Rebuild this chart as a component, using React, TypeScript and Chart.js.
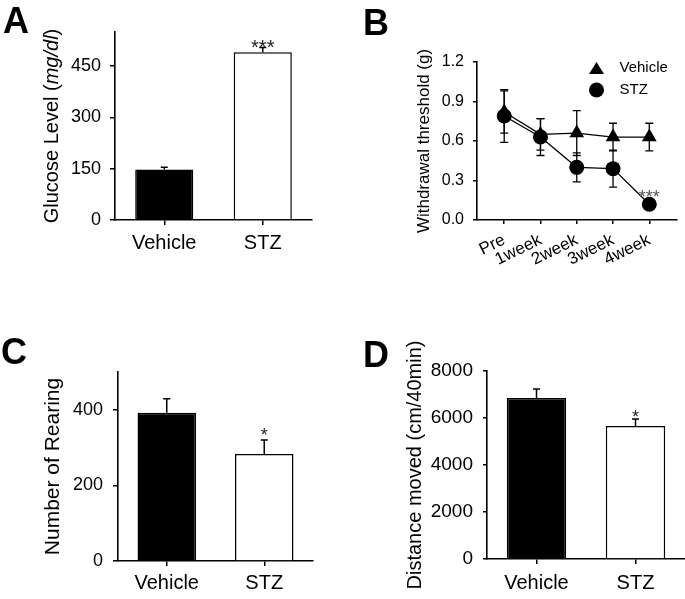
import React, { useEffect, useRef } from "react";
import { Chart, registerables } from "chart.js";

Chart.register(...registerables);

const FONT = "'Liberation Sans', Arial, Helvetica, sans-serif";
Chart.defaults.font.family = FONT;
Chart.defaults.color = "#000";

// ---------------- data ----------------
const groups = ["Vehicle", "STZ"];

const glucoseMean = [148, 491];
const glucoseSem = [6, 14];
const glucoseSig = ["", "***"];
const glucoseTicks = [0, 150, 300, 450];
const glucoseMax = 550;

const timepoints = ["Pre", "1week", "2week", "3week", "4week"];
const vehicleThreshold = [0.82, 0.65, 0.66, 0.63, 0.63];
const vehicleThresholdSem = [0.16, 0.12, 0.17, 0.105, 0.105];
const stzThreshold = [0.79, 0.63, 0.4, 0.39, 0.12];
const stzThresholdSem = [0.2, 0.14, 0.11, 0.14, 0];
const stzThresholdSig = ["", "", "", "", "***"];
const thresholdTicks = [0, 0.3, 0.6, 0.9, 1.2];
const thresholdMax = 1.2;

const rearingMean = [392, 283];
const rearingSem = [37, 37];
const rearingSig = ["", "*"];
const rearingTicks = [0, 200, 400];
const rearingMax = 500;

const distanceMean = [6850, 5660];
const distanceSem = [383, 297];
const distanceSig = ["", "*"];
const distanceTicks = [0, 2000, 4000, 6000, 8000];
const distanceMax = 8000;

// ---------------- helpers ----------------
const axisBorder = { display: true, color: "#000", width: 1.6 };
const tickGrid = (len: number) => ({
  display: true,
  drawOnChartArea: false,
  drawTicks: true,
  tickLength: len,
  color: "#000",
  lineWidth: 1.5,
  offset: false,
});

const valOf = (raw: any) => (typeof raw === "number" ? raw : raw.y);

function errorBarsPlugin(capHalf: number, lineWidth: number, both: boolean) {
  return {
    id: "errorBars",
    afterDatasetsDraw(chart: any) {
      const { ctx } = chart;
      const yScale = chart.scales.y;
      chart.data.datasets.forEach((ds: any, di: number) => {
        const errs: number[] = ds.errors;
        if (!errs) return;
        const meta = chart.getDatasetMeta(di);
        ctx.save();
        ctx.strokeStyle = "#000";
        ctx.lineWidth = lineWidth;
        errs.forEach((e, i) => {
          const el = meta.data[i];
          if (!e || !el) return;
          const v = valOf(ds.data[i]);
          const x = el.x;
          const top = yScale.getPixelForValue(v + e);
          const bottom = yScale.getPixelForValue(both ? v - e : v);
          ctx.beginPath();
          ctx.moveTo(x, bottom);
          ctx.lineTo(x, top);
          ctx.moveTo(x - capHalf, top);
          ctx.lineTo(x + capHalf, top);
          if (both) {
            ctx.moveTo(x - capHalf, bottom);
            ctx.lineTo(x + capHalf, bottom);
          }
          ctx.stroke();
        });
        ctx.restore();
      });
    },
  };
}

function sigPlugin(size: number, dy: number, color: string) {
  return {
    id: "sigLabels",
    afterDatasetsDraw(chart: any) {
      const { ctx } = chart;
      const yScale = chart.scales.y;
      chart.data.datasets.forEach((ds: any, di: number) => {
        const sig: string[] = ds.sig;
        if (!sig) return;
        const meta = chart.getDatasetMeta(di);
        ctx.save();
        ctx.fillStyle = color;
        ctx.font = `${size}px ${FONT}`;
        ctx.textAlign = "center";
        ctx.textBaseline = "alphabetic";
        sig.forEach((t, i) => {
          const el = meta.data[i];
          if (!t || !el) return;
          const v = valOf(ds.data[i]) + ((ds.errors && ds.errors[i]) || 0);
          ctx.fillText(t, el.x, yScale.getPixelForValue(v) + dy);
        });
        ctx.restore();
      });
    },
  };
}

// y title with mixed italic part (panel A)
const glucoseTitlePlugin = {
  id: "glucoseTitle",
  afterDraw(chart: any) {
    const { ctx, chartArea } = chart;
    const parts: [string, string][] = [
      ["Glucose Level (", "normal"],
      ["mg/dl", "italic"],
      [")", "normal"],
    ];
    const size = 20;
    ctx.save();
    ctx.fillStyle = "#000";
    ctx.translate(chartArea.left - 63, (chartArea.top + chartArea.bottom) / 2);
    ctx.rotate(-Math.PI / 2);
    ctx.textBaseline = "middle";
    ctx.textAlign = "left";
    let total = 0;
    const widths = parts.map(([t, st]) => {
      ctx.font = `${st} ${size}px ${FONT}`;
      const w = ctx.measureText(t).width;
      total += w;
      return w;
    });
    let x = -total / 2;
    parts.forEach(([t, st], i) => {
      ctx.font = `${st} ${size}px ${FONT}`;
      ctx.fillText(t, x, 0);
      x += widths[i];
    });
    ctx.restore();
  },
};

const thresholdLegendPlugin = {
  id: "thresholdLegend",
  afterDraw(chart: any) {
    const { ctx, chartArea } = chart;
    const x0 = chartArea.right - 80;
    const y0 = chartArea.top + 6;
    ctx.save();
    chart.data.datasets.forEach((ds: any, i: number) => {
      const y = y0 + i * 22;
      ctx.fillStyle = "#000";
      ctx.beginPath();
      if (ds.pointStyle === "triangle") {
        ctx.moveTo(x0, y - 6);
        ctx.lineTo(x0 + 7.5, y + 6);
        ctx.lineTo(x0 - 7.5, y + 6);
        ctx.closePath();
      } else {
        ctx.arc(x0, y, 7.5, 0, Math.PI * 2);
      }
      ctx.fill();
      ctx.font = `15px ${FONT}`;
      ctx.textAlign = "left";
      ctx.textBaseline = "middle";
      ctx.fillText(ds.label, x0 + 23, y);
    });
    ctx.restore();
  },
};

function barChart(
  canvas: HTMLCanvasElement,
  cfg: {
    means: number[];
    sems: number[];
    sig: string[];
    ticks: number[];
    max: number;
    padding: any;
    yWidth: number;
    xHeight: number;
    barPct: number;
    tickFont: number;
    tickLen: number;
    tickPad: number;
    xPad: number;
    title?: string;
    titleSize?: number;
    sigSize: number;
    sigDy: number;
    extra: any[];
  }
) {
  return new Chart(canvas, {
    type: "bar",
    data: {
      labels: groups,
      datasets: [
        {
          data: cfg.means,
          errors: cfg.sems,
          sig: cfg.sig,
          backgroundColor: ["#000", "#fff"],
          borderColor: "#000",
          borderWidth: 1.5,
          borderSkipped: "start",
          barPercentage: cfg.barPct,
          categoryPercentage: 1,
        } as any,
      ],
    },
    options: {
      responsive: false,
      animation: false,
      events: [],
      layout: { padding: cfg.padding },
      plugins: { legend: { display: false }, tooltip: { enabled: false } },
      scales: {
        x: {
          grid: tickGrid(5) as any,
          border: axisBorder,
          ticks: { font: { size: 20 }, color: "#000", padding: cfg.xPad, maxRotation: 0 },
          afterFit: (s: any) => {
            s.height = cfg.xHeight;
          },
        },
        y: {
          min: 0,
          max: cfg.max,
          afterBuildTicks: (s: any) => {
            s.ticks = cfg.ticks.map((v) => ({ value: v }));
          },
          grid: tickGrid(cfg.tickLen) as any,
          border: axisBorder,
          ticks: {
            font: { size: cfg.tickFont },
            color: "#000",
            padding: cfg.tickPad,
            callback: (v: any) => String(v),
          },
          title: cfg.title
            ? { display: true, text: cfg.title, font: { size: cfg.titleSize }, padding: 0, color: "#000" }
            : { display: false },
          afterFit: (s: any) => {
            s.width = cfg.yWidth;
          },
        },
      },
    } as any,
    plugins: [errorBarsPlugin(3.5, 1.5, false), sigPlugin(cfg.sigSize, cfg.sigDy, "#222"), ...cfg.extra],
  });
}

function buildA(canvas: HTMLCanvasElement) {
  return barChart(canvas, {
    means: glucoseMean,
    sems: glucoseSem,
    sig: glucoseSig,
    ticks: glucoseTicks,
    max: glucoseMax,
    padding: { top: 32, right: 28, bottom: 0, left: 0 },
    yWidth: 115,
    xHeight: 60,
    barPct: 0.59,
    tickFont: 18,
    tickLen: 5,
    tickPad: 9,
    xPad: 6,
    sigSize: 20,
    sigDy: 7,
    extra: [glucoseTitlePlugin],
  });
}

function buildC(canvas: HTMLCanvasElement) {
  return barChart(canvas, {
    means: rearingMean,
    sems: rearingSem,
    sig: rearingSig,
    ticks: rearingTicks,
    max: rearingMax,
    padding: { top: 72, right: 27, bottom: 0, left: 40.4 },
    yWidth: 77.6,
    xHeight: 38,
    barPct: 0.6,
    tickFont: 18,
    tickLen: 5,
    tickPad: 10,
    xPad: 5,
    title: "Number of Rearing",
    titleSize: 21,
    sigSize: 18,
    sigDy: 1,
    extra: [],
  });
}

function buildD(canvas: HTMLCanvasElement) {
  return barChart(canvas, {
    means: distanceMean,
    sems: distanceSem,
    sig: distanceSig,
    ticks: distanceTicks,
    max: distanceMax,
    padding: { top: 71, right: 0, bottom: 0, left: 63 },
    yWidth: 84,
    xHeight: 40,
    barPct: 0.6,
    tickFont: 19,
    tickLen: 4,
    tickPad: 10,
    xPad: 7,
    title: "Distance moved (cm/40min)",
    titleSize: 20,
    sigSize: 18,
    sigDy: 4,
    extra: [],
  });
}

function buildB(canvas: HTMLCanvasElement) {
  const common = {
    borderColor: "#000",
    backgroundColor: "#000",
    pointBackgroundColor: "#000",
    pointBorderColor: "#000",
    pointBorderWidth: 0,
    borderWidth: 1.3,
    tension: 0,
  };
  return new Chart(canvas, {
    type: "line",
    data: {
      datasets: [
        {
          ...common,
          label: "Vehicle",
          data: vehicleThreshold.map((y, x) => ({ x, y })),
          errors: vehicleThresholdSem,
          pointStyle: "triangle",
          pointRadius: 8.5,
        } as any,
        {
          ...common,
          label: "STZ",
          data: stzThreshold.map((y, x) => ({ x, y })),
          errors: stzThresholdSem,
          sig: stzThresholdSig,
          pointStyle: "circle",
          pointRadius: 7.5,
        } as any,
      ],
    },
    options: {
      responsive: false,
      animation: false,
      events: [],
      layout: { padding: { top: 62, right: 5, bottom: 0, left: 73.8 } },
      plugins: { legend: { display: false }, tooltip: { enabled: false } },
      scales: {
        x: {
          type: "linear",
          min: -0.75,
          max: 4.75,
          afterBuildTicks: (s: any) => {
            s.ticks = timepoints.map((_, i) => ({ value: i }));
          },
          ticks: {
            callback: (v: any) => timepoints[v] ?? "",
            minRotation: 26,
            maxRotation: 26,
            autoSkip: false,
            font: { size: 17 },
            color: "#000",
            padding: 6,
          },
          grid: tickGrid(4) as any,
          border: axisBorder,
          afterFit: (s: any) => {
            s.height = 60;
          },
        },
        y: {
          min: 0,
          max: thresholdMax,
          afterBuildTicks: (s: any) => {
            s.ticks = thresholdTicks.map((v) => ({ value: v }));
          },
          ticks: {
            callback: (v: any) => Number(v).toFixed(1),
            font: { size: 16 },
            color: "#000",
            padding: 9,
          },
          title: {
            display: true,
            text: "Withdrawal threshold (g)",
            font: { size: 17 },
            padding: 0,
            color: "#000",
          },
          grid: tickGrid(4) as any,
          border: axisBorder,
          afterFit: (s: any) => {
            s.width = 63.2;
          },
        },
      },
    } as any,
    plugins: [errorBarsPlugin(4, 1.3, true), sigPlugin(18, -1, "#555"), thresholdLegendPlugin],
  });
}

function Panel(props: {
  left: number;
  top: number;
  width: number;
  height: number;
  build: (c: HTMLCanvasElement) => Chart;
}) {
  const ref = useRef<HTMLCanvasElement | null>(null);
  useEffect(() => {
    if (!ref.current) return;
    const chart = props.build(ref.current);
    return () => chart.destroy();
  }, []);
  return (
    <canvas
      ref={ref}
      width={props.width}
      height={props.height}
      style={{
        position: "absolute",
        left: props.left,
        top: props.top,
        width: props.width,
        height: props.height,
      }}
    />
  );
}

const letterStyle = (left: number, top: number): React.CSSProperties => ({
  position: "absolute",
  left,
  top,
  fontFamily: FONT,
  fontWeight: 700,
  fontSize: 36,
  lineHeight: 1,
  color: "#000",
});

export default function App() {
  return (
    <div
      style={{
        position: "fixed",
        left: 0,
        top: 0,
        width: 685,
        height: 599,
        overflow: "hidden",
        background: "#fff",
      }}
    >
      <Panel left={0} top={0} width={340} height={280} build={buildA} />
      <Panel left={340} top={0} width={345} height={280} build={buildB} />
      <Panel left={0} top={300} width={340} height={299} build={buildC} />
      <Panel left={340} top={300} width={345} height={299} build={buildD} />
      <div style={letterStyle(3, 3.3)}>A</div>
      <div style={letterStyle(363, 5.3)}>B</div>
      <div style={letterStyle(1, 334.3)}>C</div>
      <div style={letterStyle(363, 337.3)}>D</div>
    </div>
  );
}
